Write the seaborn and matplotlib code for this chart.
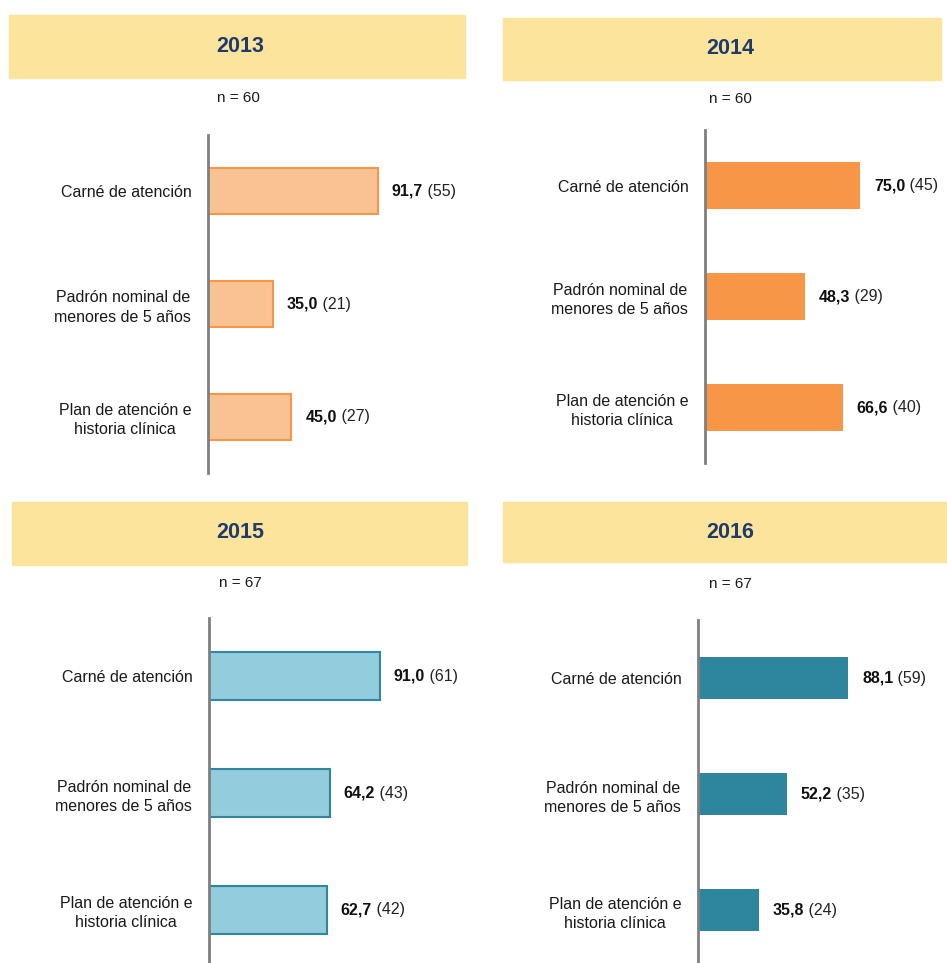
import matplotlib
matplotlib.use("Agg")
import matplotlib.pyplot as plt
import seaborn as sns
import pandas as pd
from matplotlib.patches import Rectangle

# Data
categories = ["Carné de atención",
              "Padrón nominal de\nmenores de 5 años",
              "Plan de atención e\nhistoria clínica"]
years = ["2013", "2014", "2015", "2016"]
n_totals = [60, 60, 67, 67]
pct_2013 = [91.7, 35.0, 45.0]
cnt_2013 = [55, 21, 27]
pct_2014 = [75.0, 48.3, 66.6]
cnt_2014 = [45, 29, 40]
pct_2015 = [91.0, 64.2, 62.7]
cnt_2015 = [61, 43, 42]
pct_2016 = [88.1, 52.2, 35.8]
cnt_2016 = [59, 35, 24]

W, H = 947, 963
sns.set_theme(style="white")
plt.rcParams["font.family"] = ["Liberation Sans", "DejaVu Sans"]

fig = plt.figure(figsize=(W / 100, H / 100), dpi=100)
fig.patch.set_facecolor("white")

# layout per panel (pixels)
panels = [
    dict(year=years[0], n=n_totals[0], pct=pct_2013, cnt=cnt_2013,
         axis_x=208, top=135, bottom=473, scale=1.855, bar_w=0.41,
         fill="#F9C293", edge="#F79646", lw=1.5,
         banner=(9, 15, 465, 78), title_xy=(240, 46), n_xy=(238, 98)),
    dict(year=years[1], n=n_totals[1], pct=pct_2014, cnt=cnt_2014,
         axis_x=705, top=130, bottom=463, scale=2.07, bar_w=0.425,
         fill="#F79646", edge="#F79646", lw=0,
         banner=(503, 18, 941, 80), title_xy=(730, 48), n_xy=(730, 99)),
    dict(year=years[2], n=n_totals[2], pct=pct_2015, cnt=cnt_2015,
         axis_x=209, top=618, bottom=968, scale=1.88, bar_w=0.41,
         fill="#93CDDD", edge="#31859C", lw=1.5,
         banner=(12, 502, 467, 565), title_xy=(240, 533), n_xy=(240, 583)),
    dict(year=years[3], n=n_totals[3], pct=pct_2016, cnt=cnt_2016,
         axis_x=698, top=620, bottom=968, scale=1.705, bar_w=0.365,
         fill="#2E869E", edge="#2E869E", lw=0,
         banner=(503, 502, 947, 562), title_xy=(730, 533), n_xy=(730, 584)),
]

AX_W = 230
for p in panels:
    # banner
    x0, y0, x1, y1 = p["banner"]
    fig.add_artist(Rectangle((x0 / W, 1 - y1 / H), (x1 - x0) / W, (y1 - y0) / H,
                             transform=fig.transFigure, color="#FDE49D", zorder=0))
    fig.text(p["title_xy"][0] / W, 1 - p["title_xy"][1] / H, p["year"],
             ha="center", va="center", fontsize=15.5, fontweight="bold", color="#1F3B6B")
    fig.text(p["n_xy"][0] / W, 1 - p["n_xy"][1] / H, f"n = {p['n']}",
             ha="center", va="center", fontsize=11, color="#1a1a1a")

    ax = fig.add_axes([p["axis_x"] / W, 1 - p["bottom"] / H,
                       AX_W / W, (p["bottom"] - p["top"]) / H])
    df = pd.DataFrame({"cat": categories, "pct": p["pct"]})
    sns.barplot(data=df, y="cat", x="pct", orient="h", color=p["fill"],
                edgecolor=p["edge"], linewidth=p["lw"], width=p["bar_w"],
                saturation=1, ax=ax)
    ax.set_xlim(0, AX_W / p["scale"])
    ax.set_ylim(2.5, -0.5)
    ax.set_xlabel("")
    ax.set_ylabel("")
    ax.set_xticks([])
    ax.set_facecolor("none")
    for s in ["top", "right", "bottom"]:
        ax.spines[s].set_visible(False)
    ax.spines["left"].set_color("#7f7f7f")
    ax.spines["left"].set_linewidth(2)
    ax.tick_params(axis="y", length=0, pad=12, labelsize=11.5, labelcolor="#1a1a1a")
    for t in ax.get_yticklabels():
        t.set_multialignment("center")
        t.set_linespacing(1.35)

    for i, (v, c) in enumerate(zip(p["pct"], p["cnt"])):
        t1 = ax.annotate(f"{v:.1f}".replace(".", ","), xy=(v, i), xytext=(10, 0),
                         textcoords="offset points", ha="left", va="center",
                         fontsize=11.5, fontweight="bold", color="#111111")
        ax.annotate(f" ({c})", xy=(1, 0.5), xycoords=t1, ha="left", va="center",
                    fontsize=11.5, color="#222222")

fig.savefig("out.png", dpi=100, facecolor="white")
